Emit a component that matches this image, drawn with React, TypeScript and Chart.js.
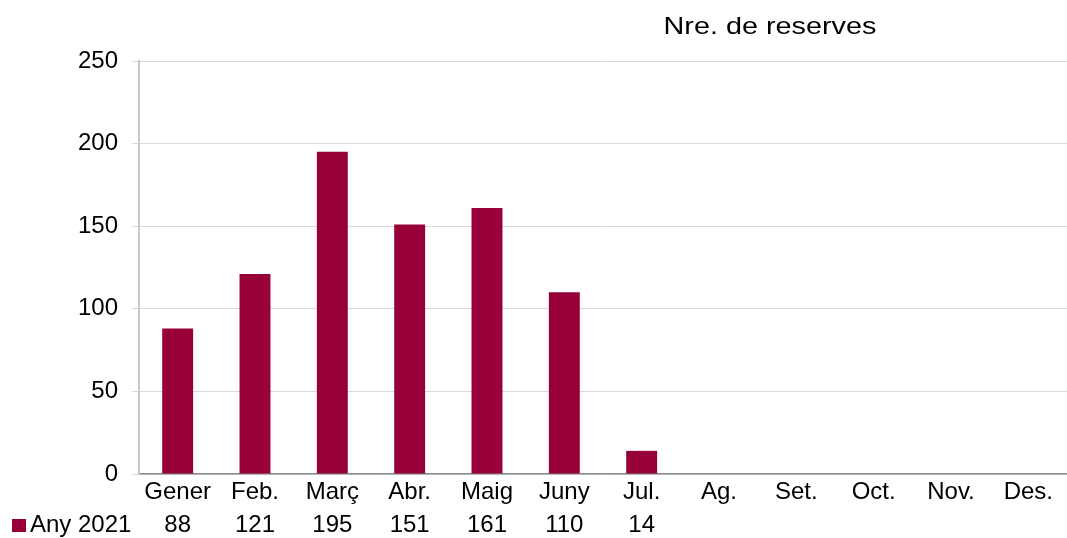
import React, { useEffect, useRef } from "react";
import { Chart, registerables } from "chart.js";

Chart.register(...registerables);

const categories = ["Gener", "Feb.", "Març", "Abr.", "Maig", "Juny", "Jul.", "Ag.", "Set.", "Oct.", "Nov.", "Des."];
const values: (number | null)[] = [88, 121, 195, 151, 161, 110, 14, null, null, null, null, null];
const seriesName = "Any 2021";
const chartTitle = "Nre. de reserves";
const barColor = "#970039";
const FONT = "'Liberation Sans', Arial, sans-serif";

const tablePlugin = {
  id: "dataTable",
  afterDraw(chart: any) {
    const ctx = chart.ctx;
    const x = chart.scales.x;
    ctx.save();
    ctx.font = `24px ${FONT}`;
    ctx.fillStyle = "#000";
    ctx.textBaseline = "middle";
    const rowY = 525;
    ctx.textAlign = "center";
    values.forEach((v, i) => {
      if (v === null) return;
      ctx.fillText(String(v), x.getPixelForValue(i), rowY);
    });
    // legend key
    ctx.fillStyle = barColor;
    ctx.fillRect(12, rowY - 6, 14, 13);
    ctx.fillStyle = "#000";
    ctx.textAlign = "left";
    ctx.fillText(seriesName, 30, rowY);
    // title (slightly wide, as in the source)
    ctx.textAlign = "center";
    ctx.translate(770, 27);
    ctx.scale(1.2, 1.02);
    ctx.fillText(chartTitle, 0, 0);
    ctx.restore();
  },
};

export default function App() {
  const ref = useRef<HTMLCanvasElement | null>(null);
  useEffect(() => {
    document.body.style.margin = "0";
    const chart = new Chart(ref.current as HTMLCanvasElement, {
      type: "bar",
      data: {
        labels: categories,
        datasets: [
          {
            label: seriesName,
            data: values as any,
            backgroundColor: barColor,
            barPercentage: 0.4,
            categoryPercentage: 1,
          },
        ],
      },
      options: {
        animation: false,
        responsive: false,
        layout: { padding: { top: 61, left: 0, right: 0, bottom: 0 } },
        plugins: { legend: { display: false }, tooltip: { enabled: false }, title: { display: false } },
        scales: {
          x: {
            afterFit(scale: any) {
              scale.height = 64;
            },
            grid: { display: false, drawTicks: false },
            border: { display: true, color: "#8c8c8c", width: 1.5 },
            ticks: { color: "#000", font: { family: FONT, size: 24 }, padding: 4, maxRotation: 0, autoSkip: false },
          },
          y: {
            min: 0,
            max: 250,
            afterFit(scale: any) {
              scale.width = 139;
            },
            ticks: { stepSize: 50, color: "#000", font: { family: FONT, size: 24 }, padding: 14 },
            grid: { color: "#d9d9d9", lineWidth: 1, tickLength: 7 },
            border: { display: true, color: "#c8c8c8", width: 2 },
          },
        },
      },
      plugins: [tablePlugin],
    });
    return () => chart.destroy();
  }, []);
  return (
    <div style={{ position: "fixed", left: 0, top: 0, width: 1067, height: 538 }}>
      <canvas ref={ref} width={1067} height={538} />
    </div>
  );
}
